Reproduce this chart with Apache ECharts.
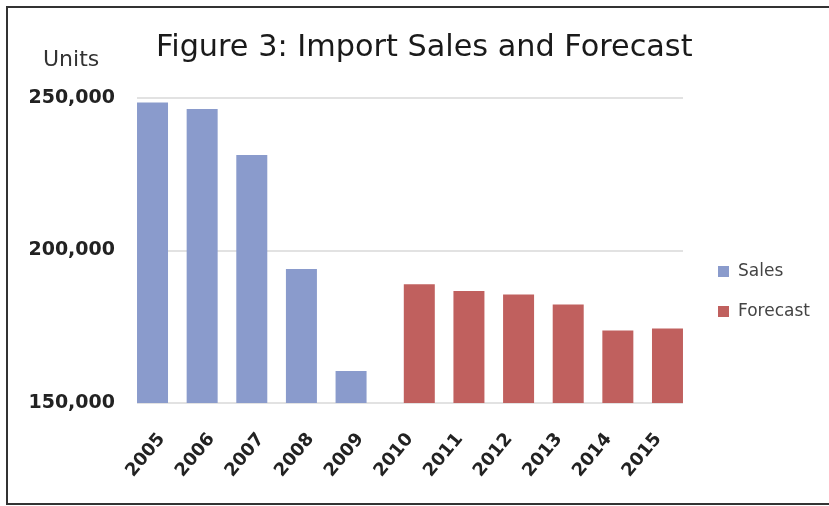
<!DOCTYPE html>
<html>
<head>
<meta charset="utf-8">
<title>Figure 3: Import Sales and Forecast</title>
<script src="https://cdn.jsdelivr.net/npm/echarts@6/dist/echarts.min.js"></script>
<style>
  html, body { margin: 0; padding: 0; background: #fff; }
  #chart { width: 829px; height: 506px; }
</style>
</head>
<body>
<div id="chart"></div>
<script>
// data
var years = ['2005', '2006', '2007', '2008', '2009', '2010', '2011', '2012', '2013', '2014', '2015'];
var sales = [248500, 246400, 231300, 193900, 160500, null, null, null, null, null, null];
var forecast = [null, null, null, null, null, 188900, 186700, 185600, 182300, 173800, 174400];
var yTicks = [150000, 200000, 250000];

var font = 'DejaVu Sans';
var chart = echarts.init(document.getElementById('chart'));

chart.setOption({
  animation: false,
  backgroundColor: '#fff',
  textStyle: { fontFamily: font },
  title: {
    text: 'Figure 3: Import Sales and Forecast',
    left: 151,
    top: 28,
    textStyle: { fontFamily: font, fontSize: 30.3, fontWeight: 'normal', color: '#1a1a1a' }
  },
  graphic: [
    {
      type: 'rect',
      shape: { x: 7, y: 7, width: 900, height: 497 },
      style: { fill: 'none', stroke: '#333', lineWidth: 2 },
      silent: true
    },
    {
      type: 'text',
      left: 43,
      top: 49,
      style: { text: 'Units', font: '22px "DejaVu Sans"', fill: '#333' }
    }
  ],
  legend: {
    orient: 'vertical',
    left: 713,
    top: 258,
    itemWidth: 11,
    itemHeight: 11,
    itemGap: 23,
    icon: 'rect',
    textStyle: { fontFamily: font, fontSize: 17, color: '#444', padding: [0, 0, 0, 4] },
    data: ['Sales', 'Forecast']
  },
  grid: {
    left: 137,
    right: 146,
    top: 98,
    bottom: 103,
    containLabel: false
  },
  xAxis: {
    type: 'category',
    data: years,
    axisLine: { show: false },
    axisTick: { show: false },
    axisLabel: {
      rotate: 50,
      interval: 0,
      margin: 33,
      fontFamily: font,
      fontSize: 18,
      fontWeight: 'bold',
      color: '#222'
    }
  },
  yAxis: {
    type: 'value',
    min: yTicks[0],
    max: yTicks[yTicks.length - 1],
    interval: yTicks[1] - yTicks[0],
    axisLine: { show: false },
    axisTick: { show: false },
    splitLine: { lineStyle: { color: '#d9d9d9', width: 1.5 } },
    axisLabel: {
      margin: 22,
      fontFamily: font,
      fontSize: 19,
      fontWeight: 'bold',
      color: '#222',
      formatter: function (v) { return v.toLocaleString('en-US'); }
    }
  },
  series: [
    {
      name: 'Sales',
      type: 'bar',
      data: sales,
      barWidth: 31,
      barGap: '-40%',
      itemStyle: { color: '#8a9bcc' }
    },
    {
      name: 'Forecast',
      type: 'bar',
      data: forecast,
      barWidth: 31,
      barGap: '-40%',
      itemStyle: { color: '#c0605e' }
    }
  ]
});
</script>
</body>
</html>
